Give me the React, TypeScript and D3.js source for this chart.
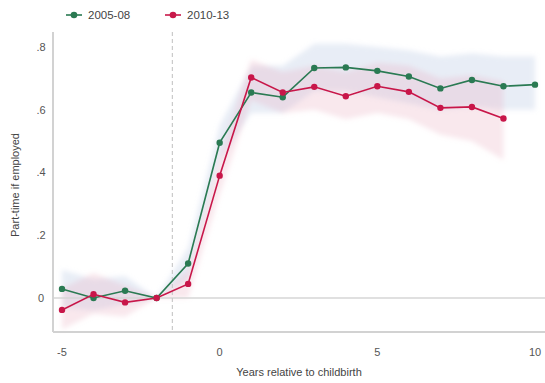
import React from "react";
import * as d3 from "d3";

const years = [-5, -4, -3, -2, -1, 0, 1, 2, 3, 4, 5, 6, 7, 8, 9, 10];
const green = [0.029, 0.0, 0.023, 0, 0.11, 0.495, 0.655, 0.64, 0.733, 0.735, 0.724, 0.706, 0.668, 0.695, 0.675, 0.68];
const greenLo = [-0.03, -0.04, -0.02, 0, 0.06, 0.44, 0.59, 0.59, 0.66, 0.66, 0.64, 0.62, 0.6, 0.61, 0.6, 0.6];
const greenHi = [0.09, 0.06, 0.07, 0, 0.16, 0.55, 0.74, 0.74, 0.81, 0.81, 0.8, 0.79, 0.77, 0.78, 0.77, 0.77];
const redYears = [-5, -4, -3, -2, -1, 0, 1, 2, 3, 4, 5, 6, 7, 8, 9];
const red = [-0.038, 0.012, -0.014, 0, 0.045, 0.39, 0.703, 0.655, 0.673, 0.643, 0.675, 0.657, 0.606, 0.609, 0.572];
const redLo = [-0.1, -0.05, -0.06, 0, 0.0, 0.33, 0.63, 0.59, 0.6, 0.57, 0.59, 0.57, 0.52, 0.5, 0.44];
const redHi = [0.03, 0.08, 0.04, 0, 0.09, 0.45, 0.76, 0.72, 0.74, 0.72, 0.75, 0.74, 0.7, 0.71, 0.69];
const xTicks = [-5, 0, 5, 10];
const yTicks = [0, 0.2, 0.4, 0.6, 0.8];
const yTickLabels = ["0", ".2", ".4", ".6", ".8"];
const legendLabels = ["2005-08", "2010-13"];
const eventLine = -1.5;

const GREEN = "#2a7a52";
const RED = "#c8194a";

export default function App() {
  const x = d3.scaleLinear().domain([-5, 10]).range([62, 535]);
  const y = d3.scaleLinear().domain([0, 0.8]).range([298, 47]);
  const left = 53, right = 545, top = 32, bottom = 332;

  const area = d3
    .area<[number, number, number]>()
    .x((d) => x(d[0]))
    .y0((d) => y(d[1]))
    .y1((d) => y(d[2]));
  const line = d3
    .line<[number, number]>()
    .x((d) => x(d[0]))
    .y((d) => y(d[1]));

  const gBand = years.map((t, i) => [t, greenLo[i], greenHi[i]] as [number, number, number]);
  const rBand = redYears.map((t, i) => [t, redLo[i], redHi[i]] as [number, number, number]);
  const gPts = years.map((t, i) => [t, green[i]] as [number, number]);
  const rPts = redYears.map((t, i) => [t, red[i]] as [number, number]);

  const font = "Liberation Sans, Arial, sans-serif";

  return (
    <svg width={545} height={383} style={{ position: "absolute", left: 0, top: 0, background: "#fff" }} fontFamily={font}>
      <defs>
        <filter id="bandblur" x="-10%" y="-20%" width="120%" height="140%">
          <feGaussianBlur stdDeviation="2.5" />
        </filter>
        <filter id="soft" x="-5%" y="-5%" width="110%" height="110%">
          <feGaussianBlur stdDeviation="0.4" />
        </filter>
      </defs>
      <rect width={545} height={383} fill="#fff" />
      {/* bands */}
      <g filter="url(#bandblur)">
        <path d={area(gBand) || ""} fill="rgba(185,200,228,0.32)" />
        <path d={area(rBand) || ""} fill="rgba(232,165,185,0.26)" />
      </g>
      {/* zero line */}
      <line x1={left} x2={right} y1={y(0)} y2={y(0)} stroke="#d6d6d6" strokeWidth={1.5} />
      {/* event line */}
      <line x1={x(eventLine)} x2={x(eventLine)} y1={top} y2={bottom} stroke="#cacaca" strokeWidth={1.2} strokeDasharray="4,3" />
      {/* axes */}
      <line x1={left} x2={left} y1={top} y2={bottom} stroke="#d2d2d2" strokeWidth={2} />
      <line x1={left} x2={right} y1={bottom} y2={bottom} stroke="#d2d2d2" strokeWidth={2} />
      {yTicks.map((v, i) => (
        <text key={v} x={41} y={y(v)} dy="0.35em" textAnchor="middle" fontSize={11} fill="#555">
          {yTickLabels[i]}
        </text>
      ))}
      {xTicks.map((v) => (
        <text key={v} x={x(v)} y={352} dy="0.35em" textAnchor="middle" fontSize={11} fill="#555">
          {v}
        </text>
      ))}
      <text x={299} y={372} dy="0.35em" textAnchor="middle" fontSize={11} fill="#444">
        Years relative to childbirth
      </text>
      <text transform="translate(15,185) rotate(-90)" dy="0.35em" textAnchor="middle" fontSize={11} fill="#444">
        Part-time if employed
      </text>
      {/* lines */}
      <g filter="url(#soft)">
        <path d={line(gPts) || ""} fill="none" stroke={GREEN} strokeWidth={1.6} />
        <path d={line(rPts) || ""} fill="none" stroke={RED} strokeWidth={1.6} />
        {gPts.map((d, i) => (
          <circle key={"g" + i} cx={x(d[0])} cy={y(d[1])} r={3.2} fill={GREEN} />
        ))}
        {rPts.map((d, i) => (
          <circle key={"r" + i} cx={x(d[0])} cy={y(d[1])} r={3.2} fill={RED} />
        ))}
      </g>
      {/* legend */}
      <g>
        <line x1={66} x2={82} y1={15} y2={15} stroke={GREEN} strokeWidth={1.6} />
        <circle cx={74} cy={15} r={3.3} fill={GREEN} />
        <text x={88} y={15} dy="0.35em" fontSize={11.5} fill="#444">{legendLabels[0]}</text>
        <line x1={165} x2={181} y1={15} y2={15} stroke={RED} strokeWidth={1.6} />
        <circle cx={173} cy={15} r={3.3} fill={RED} />
        <text x={187} y={15} dy="0.35em" fontSize={11.5} fill="#444">{legendLabels[1]}</text>
      </g>
    </svg>
  );
}
